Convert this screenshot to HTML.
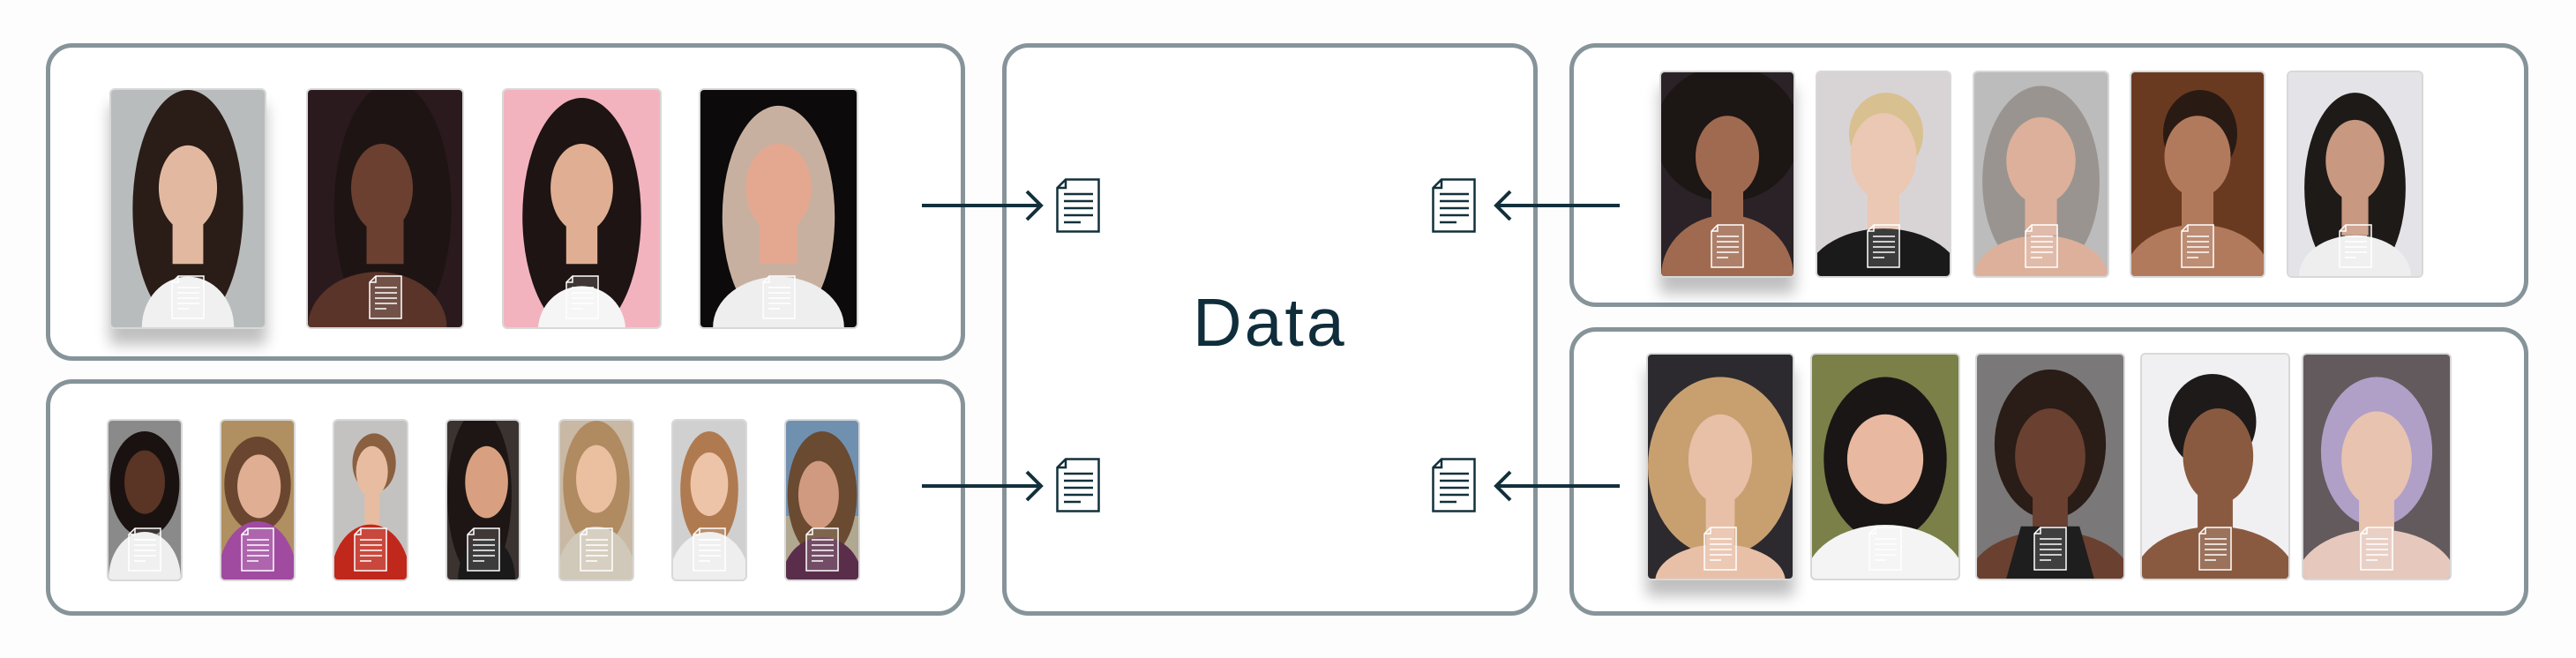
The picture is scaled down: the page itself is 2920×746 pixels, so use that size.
<!DOCTYPE html>
<html><head><meta charset="utf-8">
<style>
html,body{margin:0;padding:0}
body{width:2920px;height:746px;position:relative;background:#fdfdfd;overflow:hidden;font-family:"Liberation Sans",sans-serif}
.box{position:absolute;box-sizing:border-box;border:5px solid #86949a;border-radius:30px;background:#fff}
.p{position:absolute;border-radius:6px;overflow:hidden;border:2px solid #d8d8d8;box-sizing:border-box}
.p svg.f{position:absolute;left:0;top:0;width:100%;height:100%}
.p svg.d{position:absolute;left:50%;margin-left:-19px;bottom:9px;width:38px;height:50px}
.sh{box-shadow:0 18px 16px rgba(0,0,0,0.25)}
.ar{position:absolute;height:4px;background:#12303c}
.big{position:absolute;width:50px;height:62px}
</style></head><body>

<div class="box" style="left:52px;top:49px;width:1042px;height:360px"></div>
<div class="box" style="left:52px;top:430px;width:1042px;height:268px"></div>
<div class="box" style="left:1136px;top:49px;width:607px;height:649px"></div>
<div class="box" style="left:1779px;top:49px;width:1087px;height:299px"></div>
<div class="box" style="left:1779px;top:371px;width:1087px;height:327px"></div>

<div style="position:absolute;left:1352px;top:320px;font-size:77px;color:#0f2d3a;letter-spacing:3px;line-height:92px">Data</div>

<!-- arrows left -->
<div class="ar" style="left:1045px;top:231px;width:133px"></div>
<svg style="position:absolute;left:1160px;top:214px" width="26" height="38"><path d="M4,3 L20,19 L4,35" fill="none" stroke="#12303c" stroke-width="4"/></svg>
<div class="ar" style="left:1045px;top:549px;width:133px"></div>
<svg style="position:absolute;left:1160px;top:532px" width="26" height="38"><path d="M4,3 L20,19 L4,35" fill="none" stroke="#12303c" stroke-width="4"/></svg>
<!-- arrows right -->
<div class="ar" style="left:1697px;top:231px;width:139px"></div>
<svg style="position:absolute;left:1690px;top:214px" width="26" height="38"><path d="M22,3 L6,19 L22,35" fill="none" stroke="#12303c" stroke-width="4"/></svg>
<div class="ar" style="left:1697px;top:549px;width:139px"></div>
<svg style="position:absolute;left:1690px;top:532px" width="26" height="38"><path d="M22,3 L6,19 L22,35" fill="none" stroke="#12303c" stroke-width="4"/></svg>

<!-- big docs -->
<svg class="big" style="left:1197px;top:202px" viewBox="0 0 50 62"><path d="M11,1.5H48.5V60.5H1.5V11Z M11,1.5V11H1.5" fill="#fff" stroke="#12303c" stroke-width="2.5"/><path d="M9,18H42M9,26H42M9,34H42M9,42H42M9,50H28" stroke="#12303c" stroke-width="2.5"/></svg>
<svg class="big" style="left:1197px;top:519px" viewBox="0 0 50 62"><path d="M11,1.5H48.5V60.5H1.5V11Z M11,1.5V11H1.5" fill="#fff" stroke="#12303c" stroke-width="2.5"/><path d="M9,18H42M9,26H42M9,34H42M9,42H42M9,50H28" stroke="#12303c" stroke-width="2.5"/></svg>
<svg class="big" style="left:1623px;top:202px" viewBox="0 0 50 62"><path d="M11,1.5H48.5V60.5H1.5V11Z M11,1.5V11H1.5" fill="#fff" stroke="#12303c" stroke-width="2.5"/><path d="M9,18H42M9,26H42M9,34H42M9,42H42M9,50H28" stroke="#12303c" stroke-width="2.5"/></svg>
<svg class="big" style="left:1623px;top:519px" viewBox="0 0 50 62"><path d="M11,1.5H48.5V60.5H1.5V11Z M11,1.5V11H1.5" fill="#fff" stroke="#12303c" stroke-width="2.5"/><path d="M9,18H42M9,26H42M9,34H42M9,42H42M9,50H28" stroke="#12303c" stroke-width="2.5"/></svg>

<!-- TL photos -->
<div class="p sh" style="left:124px;top:100px;width:178px;height:273px"><svg class="f" viewBox="0 0 100 150" preserveAspectRatio="none"><rect width="100" height="150" fill="#b8bcbc"/><ellipse cx="50" cy="75" rx="36" ry="75" fill="#2a1c16"/><rect x="40" y="80" width="20" height="30" fill="#e2b9a0"/><ellipse cx="50" cy="150" rx="30" ry="32" fill="#f0f0f0"/><ellipse cx="50" cy="62" rx="19" ry="27" fill="#e2b9a0"/></svg><svg class="d" viewBox="0 0 38 50"><path d="M8,1H37V49H1V8Z M8,1V8H1" fill="rgba(255,255,255,0.15)" stroke="#fff" stroke-width="1.5"/><path d="M7,14H32M7,20H32M7,26H32M7,32H32M7,38H20" stroke="#fff" stroke-width="1.5"/></svg></div>
<div class="p" style="left:347px;top:100px;width:179px;height:273px"><svg class="f" viewBox="0 0 100 150" preserveAspectRatio="none"><rect width="100" height="150" fill="#2a1a1e"/><ellipse cx="55" cy="75" rx="38" ry="80" fill="#1e1414"/><rect x="38" y="80" width="24" height="30" fill="#6b4030"/><ellipse cx="45" cy="150" rx="45" ry="35" fill="#5a3428"/><ellipse cx="48" cy="62" rx="20" ry="28" fill="#6b4030"/></svg><svg class="d" viewBox="0 0 38 50"><path d="M8,1H37V49H1V8Z M8,1V8H1" fill="rgba(255,255,255,0.15)" stroke="#fff" stroke-width="1.5"/><path d="M7,14H32M7,20H32M7,26H32M7,32H32M7,38H20" stroke="#fff" stroke-width="1.5"/></svg></div>
<div class="p" style="left:569px;top:100px;width:181px;height:273px"><svg class="f" viewBox="0 0 100 150" preserveAspectRatio="none"><rect width="100" height="150" fill="#f2b3bf"/><ellipse cx="50" cy="80" rx="38" ry="75" fill="#1d1413"/><rect x="40" y="80" width="20" height="30" fill="#e0ae92"/><ellipse cx="50" cy="152" rx="28" ry="28" fill="#f5f5f5"/><ellipse cx="50" cy="62" rx="20" ry="28" fill="#e0ae92"/></svg><svg class="d" viewBox="0 0 38 50"><path d="M8,1H37V49H1V8Z M8,1V8H1" fill="rgba(255,255,255,0.15)" stroke="#fff" stroke-width="1.5"/><path d="M7,14H32M7,20H32M7,26H32M7,32H32M7,38H20" stroke="#fff" stroke-width="1.5"/></svg></div>
<div class="p" style="left:792px;top:100px;width:181px;height:273px"><svg class="f" viewBox="0 0 100 150" preserveAspectRatio="none"><rect width="100" height="150" fill="#0c0a0a"/><ellipse cx="50" cy="80" rx="36" ry="70" fill="#c8b0a0"/><rect x="38" y="80" width="24" height="30" fill="#e4a890"/><ellipse cx="50" cy="150" rx="42" ry="32" fill="#eee"/><ellipse cx="50" cy="62" rx="21" ry="28" fill="#e4a890"/></svg><svg class="d" viewBox="0 0 38 50"><path d="M8,1H37V49H1V8Z M8,1V8H1" fill="rgba(255,255,255,0.15)" stroke="#fff" stroke-width="1.5"/><path d="M7,14H32M7,20H32M7,26H32M7,32H32M7,38H20" stroke="#fff" stroke-width="1.5"/></svg></div>

<!-- BL photos -->
<div class="p" style="left:121px;top:475px;width:86px;height:184px"><svg class="f" viewBox="0 0 100 150" preserveAspectRatio="none"><rect width="100" height="150" fill="#8a8a8a"/><ellipse cx="50" cy="60" rx="48" ry="50" fill="#1a1210"/><ellipse cx="50" cy="150" rx="50" ry="45" fill="#eee"/><ellipse cx="50" cy="58" rx="28" ry="30" fill="#5a3424"/></svg><svg class="d" viewBox="0 0 38 50"><path d="M8,1H37V49H1V8Z M8,1V8H1" fill="rgba(255,255,255,0.15)" stroke="#fff" stroke-width="1.5"/><path d="M7,14H32M7,20H32M7,26H32M7,32H32M7,38H20" stroke="#fff" stroke-width="1.5"/></svg></div>
<div class="p" style="left:249px;top:475px;width:86px;height:184px"><svg class="f" viewBox="0 0 100 150" preserveAspectRatio="none"><rect width="100" height="150" fill="#b09060"/><ellipse cx="50" cy="60" rx="46" ry="45" fill="#6a4630"/><ellipse cx="50" cy="150" rx="55" ry="55" fill="#a04aa0"/><ellipse cx="52" cy="62" rx="30" ry="30" fill="#e0ae92"/></svg><svg class="d" viewBox="0 0 38 50"><path d="M8,1H37V49H1V8Z M8,1V8H1" fill="rgba(255,255,255,0.15)" stroke="#fff" stroke-width="1.5"/><path d="M7,14H32M7,20H32M7,26H32M7,32H32M7,38H20" stroke="#fff" stroke-width="1.5"/></svg></div>
<div class="p" style="left:377px;top:475px;width:86px;height:184px"><svg class="f" viewBox="0 0 100 150" preserveAspectRatio="none"><rect width="100" height="150" fill="#c4c2c0"/><ellipse cx="55" cy="40" rx="30" ry="28" fill="#8a6040"/><rect x="42" y="60" width="20" height="40" fill="#e8bca0"/><ellipse cx="50" cy="150" rx="55" ry="52" fill="#c0281c"/><ellipse cx="52" cy="48" rx="22" ry="24" fill="#e8bca0"/></svg><svg class="d" viewBox="0 0 38 50"><path d="M8,1H37V49H1V8Z M8,1V8H1" fill="rgba(255,255,255,0.15)" stroke="#fff" stroke-width="1.5"/><path d="M7,14H32M7,20H32M7,26H32M7,32H32M7,38H20" stroke="#fff" stroke-width="1.5"/></svg></div>
<div class="p" style="left:505px;top:475px;width:85px;height:184px"><svg class="f" viewBox="0 0 100 150" preserveAspectRatio="none"><rect width="100" height="150" fill="#3a3330"/><ellipse cx="45" cy="70" rx="45" ry="80" fill="#1e1614"/><ellipse cx="55" cy="150" rx="40" ry="40" fill="#1a1a1a"/><ellipse cx="55" cy="58" rx="30" ry="34" fill="#d8a080"/></svg><svg class="d" viewBox="0 0 38 50"><path d="M8,1H37V49H1V8Z M8,1V8H1" fill="rgba(255,255,255,0.15)" stroke="#fff" stroke-width="1.5"/><path d="M7,14H32M7,20H32M7,26H32M7,32H32M7,38H20" stroke="#fff" stroke-width="1.5"/></svg></div>
<div class="p" style="left:633px;top:475px;width:86px;height:184px"><svg class="f" viewBox="0 0 100 150" preserveAspectRatio="none"><rect width="100" height="150" fill="#c8b8a4"/><ellipse cx="50" cy="60" rx="46" ry="60" fill="#b08a60"/><ellipse cx="50" cy="150" rx="55" ry="50" fill="#d0c8b8"/><ellipse cx="50" cy="55" rx="28" ry="32" fill="#eac0a0"/></svg><svg class="d" viewBox="0 0 38 50"><path d="M8,1H37V49H1V8Z M8,1V8H1" fill="rgba(255,255,255,0.15)" stroke="#fff" stroke-width="1.5"/><path d="M7,14H32M7,20H32M7,26H32M7,32H32M7,38H20" stroke="#fff" stroke-width="1.5"/></svg></div>
<div class="p" style="left:761px;top:475px;width:86px;height:184px"><svg class="f" viewBox="0 0 100 150" preserveAspectRatio="none"><rect width="100" height="150" fill="#d0d0d0"/><ellipse cx="50" cy="65" rx="40" ry="55" fill="#b07a50"/><ellipse cx="50" cy="150" rx="55" ry="45" fill="#eee"/><ellipse cx="50" cy="60" rx="26" ry="30" fill="#eec4a8"/></svg><svg class="d" viewBox="0 0 38 50"><path d="M8,1H37V49H1V8Z M8,1V8H1" fill="rgba(255,255,255,0.15)" stroke="#fff" stroke-width="1.5"/><path d="M7,14H32M7,20H32M7,26H32M7,32H32M7,38H20" stroke="#fff" stroke-width="1.5"/></svg></div>
<div class="p" style="left:889px;top:475px;width:86px;height:184px"><svg class="f" viewBox="0 0 100 150" preserveAspectRatio="none"><rect width="100" height="150" fill="#7090b0"/><rect y="90" width="100" height="60" fill="#b0a890"/><ellipse cx="50" cy="70" rx="48" ry="60" fill="#6a4a30"/><ellipse cx="50" cy="150" rx="55" ry="40" fill="#5a2e4a"/><ellipse cx="45" cy="70" rx="28" ry="32" fill="#d09a80"/></svg><svg class="d" viewBox="0 0 38 50"><path d="M8,1H37V49H1V8Z M8,1V8H1" fill="rgba(255,255,255,0.15)" stroke="#fff" stroke-width="1.5"/><path d="M7,14H32M7,20H32M7,26H32M7,32H32M7,38H20" stroke="#fff" stroke-width="1.5"/></svg></div>

<!-- TR photos -->
<div class="p sh" style="left:1881px;top:80px;width:154px;height:235px"><svg class="f" viewBox="0 0 100 150" preserveAspectRatio="none"><rect width="100" height="150" fill="#2a2226"/><ellipse cx="50" cy="45" rx="55" ry="50" fill="#1c1614"/><rect x="38" y="80" width="24" height="30" fill="#a06a50"/><ellipse cx="50" cy="150" rx="50" ry="45" fill="#a06a50"/><ellipse cx="50" cy="62" rx="24" ry="30" fill="#a06a50"/></svg><svg class="d" viewBox="0 0 38 50"><path d="M8,1H37V49H1V8Z M8,1V8H1" fill="rgba(255,255,255,0.15)" stroke="#fff" stroke-width="1.5"/><path d="M7,14H32M7,20H32M7,26H32M7,32H32M7,38H20" stroke="#fff" stroke-width="1.5"/></svg></div>
<div class="p" style="left:2058px;top:80px;width:154px;height:235px"><svg class="f" viewBox="0 0 100 150" preserveAspectRatio="none"><rect width="100" height="150" fill="#d8d4d6"/><ellipse cx="52" cy="45" rx="28" ry="30" fill="#d8c090"/><rect x="38" y="80" width="24" height="40" fill="#eac8b4"/><ellipse cx="50" cy="155" rx="60" ry="40" fill="#1a1a1a"/><ellipse cx="50" cy="62" rx="25" ry="32" fill="#eac8b4"/></svg><svg class="d" viewBox="0 0 38 50"><path d="M8,1H37V49H1V8Z M8,1V8H1" fill="rgba(255,255,255,0.15)" stroke="#fff" stroke-width="1.5"/><path d="M7,14H32M7,20H32M7,26H32M7,32H32M7,38H20" stroke="#fff" stroke-width="1.5"/></svg></div>
<div class="p" style="left:2236px;top:80px;width:155px;height:235px"><svg class="f" viewBox="0 0 100 150" preserveAspectRatio="none"><rect width="100" height="150" fill="#bcbcbc"/><ellipse cx="50" cy="80" rx="44" ry="70" fill="#9a9490"/><ellipse cx="50" cy="150" rx="50" ry="30" fill="#dcb09a"/><rect x="38" y="80" width="24" height="40" fill="#dcb09a"/><ellipse cx="50" cy="65" rx="26" ry="32" fill="#dcb09a"/></svg><svg class="d" viewBox="0 0 38 50"><path d="M8,1H37V49H1V8Z M8,1V8H1" fill="rgba(255,255,255,0.15)" stroke="#fff" stroke-width="1.5"/><path d="M7,14H32M7,20H32M7,26H32M7,32H32M7,38H20" stroke="#fff" stroke-width="1.5"/></svg></div>
<div class="p" style="left:2414px;top:80px;width:154px;height:235px"><svg class="f" viewBox="0 0 100 150" preserveAspectRatio="none"><rect width="100" height="150" fill="#6a3a20"/><ellipse cx="52" cy="45" rx="28" ry="32" fill="#2a1a14"/><rect x="38" y="80" width="24" height="40" fill="#b27a5c"/><ellipse cx="50" cy="150" rx="55" ry="38" fill="#b27a5c"/><ellipse cx="50" cy="62" rx="25" ry="30" fill="#b27a5c"/></svg><svg class="d" viewBox="0 0 38 50"><path d="M8,1H37V49H1V8Z M8,1V8H1" fill="rgba(255,255,255,0.15)" stroke="#fff" stroke-width="1.5"/><path d="M7,14H32M7,20H32M7,26H32M7,32H32M7,38H20" stroke="#fff" stroke-width="1.5"/></svg></div>
<div class="p" style="left:2592px;top:80px;width:155px;height:235px"><svg class="f" viewBox="0 0 100 150" preserveAspectRatio="none"><rect width="100" height="150" fill="#e4e4e8"/><ellipse cx="50" cy="85" rx="38" ry="70" fill="#1e1a18"/><ellipse cx="50" cy="150" rx="42" ry="30" fill="#eee"/><rect x="40" y="80" width="20" height="40" fill="#c89880"/><ellipse cx="50" cy="65" rx="22" ry="30" fill="#c89880"/></svg><svg class="d" viewBox="0 0 38 50"><path d="M8,1H37V49H1V8Z M8,1V8H1" fill="rgba(255,255,255,0.15)" stroke="#fff" stroke-width="1.5"/><path d="M7,14H32M7,20H32M7,26H32M7,32H32M7,38H20" stroke="#fff" stroke-width="1.5"/></svg></div>

<!-- BR photos -->
<div class="p sh" style="left:1866px;top:400px;width:168px;height:258px"><svg class="f" viewBox="0 0 100 150" preserveAspectRatio="none"><rect width="100" height="150" fill="#2c2a2e"/><ellipse cx="50" cy="75" rx="50" ry="60" fill="#c8a070"/><rect x="40" y="90" width="20" height="40" fill="#e8c0a8"/><ellipse cx="50" cy="152" rx="45" ry="25" fill="#e8c0a8"/><ellipse cx="50" cy="70" rx="22" ry="30" fill="#e8c0a8"/></svg><svg class="d" viewBox="0 0 38 50"><path d="M8,1H37V49H1V8Z M8,1V8H1" fill="rgba(255,255,255,0.15)" stroke="#fff" stroke-width="1.5"/><path d="M7,14H32M7,20H32M7,26H32M7,32H32M7,38H20" stroke="#fff" stroke-width="1.5"/></svg></div>
<div class="p" style="left:2052px;top:400px;width:170px;height:258px"><svg class="f" viewBox="0 0 100 150" preserveAspectRatio="none"><rect width="100" height="150" fill="#7a8048"/><ellipse cx="50" cy="70" rx="42" ry="55" fill="#1a1616"/><ellipse cx="50" cy="152" rx="55" ry="38" fill="#f4f4f4"/><ellipse cx="50" cy="70" rx="26" ry="30" fill="#e8b8a0"/></svg><svg class="d" viewBox="0 0 38 50"><path d="M8,1H37V49H1V8Z M8,1V8H1" fill="rgba(255,255,255,0.15)" stroke="#fff" stroke-width="1.5"/><path d="M7,14H32M7,20H32M7,26H32M7,32H32M7,38H20" stroke="#fff" stroke-width="1.5"/></svg></div>
<div class="p" style="left:2239px;top:400px;width:170px;height:258px"><svg class="f" viewBox="0 0 100 150" preserveAspectRatio="none"><rect width="100" height="150" fill="#7a7878"/><ellipse cx="50" cy="60" rx="38" ry="50" fill="#2a1c16"/><rect x="38" y="90" width="24" height="40" fill="#6a4030"/><ellipse cx="50" cy="150" rx="55" ry="32" fill="#6a4030"/><path d="M20,150 L30,115 L70,115 L80,150Z" fill="#1e1e1e"/><ellipse cx="50" cy="68" rx="24" ry="32" fill="#6a4030"/></svg><svg class="d" viewBox="0 0 38 50"><path d="M8,1H37V49H1V8Z M8,1V8H1" fill="rgba(255,255,255,0.15)" stroke="#fff" stroke-width="1.5"/><path d="M7,14H32M7,20H32M7,26H32M7,32H32M7,38H20" stroke="#fff" stroke-width="1.5"/></svg></div>
<div class="p" style="left:2426px;top:400px;width:170px;height:258px"><svg class="f" viewBox="0 0 100 150" preserveAspectRatio="none"><rect width="100" height="150" fill="#f0f0f2"/><ellipse cx="48" cy="45" rx="30" ry="32" fill="#1e1a1a"/><rect x="38" y="85" width="24" height="40" fill="#8a5a40"/><ellipse cx="50" cy="150" rx="55" ry="35" fill="#8a5a40"/><ellipse cx="52" cy="68" rx="24" ry="32" fill="#8a5a40"/></svg><svg class="d" viewBox="0 0 38 50"><path d="M8,1H37V49H1V8Z M8,1V8H1" fill="rgba(255,255,255,0.15)" stroke="#fff" stroke-width="1.5"/><path d="M7,14H32M7,20H32M7,26H32M7,32H32M7,38H20" stroke="#fff" stroke-width="1.5"/></svg></div>
<div class="p" style="left:2609px;top:400px;width:170px;height:258px"><svg class="f" viewBox="0 0 100 150" preserveAspectRatio="none"><rect width="100" height="150" fill="#625a5c"/><ellipse cx="50" cy="65" rx="38" ry="50" fill="#b0a0c8"/><rect x="38" y="85" width="24" height="40" fill="#e8c4b0"/><ellipse cx="50" cy="152" rx="55" ry="35" fill="#e6c8bc"/><ellipse cx="50" cy="70" rx="24" ry="32" fill="#e8c4b0"/></svg><svg class="d" viewBox="0 0 38 50"><path d="M8,1H37V49H1V8Z M8,1V8H1" fill="rgba(255,255,255,0.15)" stroke="#fff" stroke-width="1.5"/><path d="M7,14H32M7,20H32M7,26H32M7,32H32M7,38H20" stroke="#fff" stroke-width="1.5"/></svg></div>

</body></html>
